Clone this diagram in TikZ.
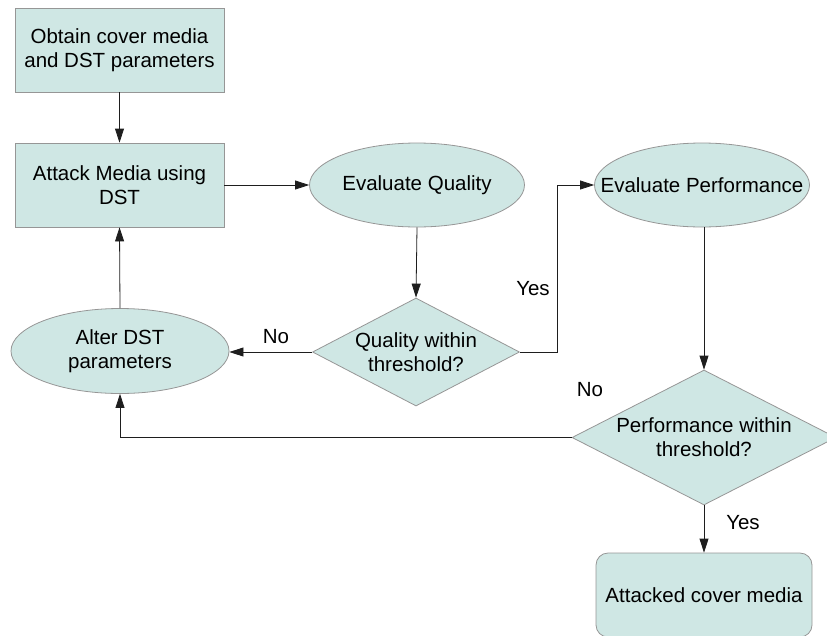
\documentclass[tikz,border=0pt]{standalone}
\usepackage{fontspec}
\setmainfont{Liberation Sans}
\usetikzlibrary{shapes.geometric,arrows.meta}
\definecolor{boxfill}{RGB}{207,231,228}
\definecolor{boxline}{RGB}{150,150,150}
\definecolor{conn}{RGB}{30,30,30}
\tikzset{
  base/.style={draw=boxline, fill=boxfill, line width=0.8pt, inner sep=0pt, align=center,
    font=\fontsize{20.5}{24}\selectfont},
  rectbox/.style={base, rectangle, minimum width=209pt, minimum height=84pt},
  roundbox/.style={base, rectangle, rounded corners=12pt, minimum width=216pt, minimum height=84pt},
  ellbox/.style={base, ellipse, minimum width=215pt, minimum height=84pt},
  decbox/.style={base, diamond},
  lbl/.style={inner sep=0pt, font=\fontsize{20.5}{24}\selectfont},
  txt/.style={inner sep=0pt, align=center, font=\fontsize{20.5}{24}\selectfont},
  conline/.style={draw=conn, line width=0.8pt},
  arr/.style={conline, -{Triangle[length=14pt,width=9pt]}}
}
\begin{document}
\begin{tikzpicture}[x=1pt,y=-1pt]
\useasboundingbox (0,0) rectangle (827,635);
\clip (0,0) rectangle (827,635);
\node[rectbox] (b1) at (119.5,50) {Obtain cover media\\and DST parameters};
\node[rectbox] (b2) at (119.5,185) {Attack Media using\\DST};
\node[ellbox] (eq) at (417,185) {};
\node[txt] (eqt) at (eq.center) {Evaluate Quality};
\node[ellbox] (ep) at (702,185) {};
\node[txt] (ept) at (ep.center) {Evaluate Performance};
\node[ellbox, minimum width=218pt, minimum height=85pt] (alt) at (120,351) {};
\node[txt] (altt) at (alt.center) {Alter DST\\parameters};
\node[decbox, minimum width=207pt, minimum height=108pt] (qd) at (416,352) {};
\node[txt] (qdt) at (qd.center) {Quality within\\threshold?};
\node[decbox, minimum width=264pt, minimum height=135pt] (pd) at (704,437.5) {};
\node[txt] (pdt) at (pd.center) {Performance within\\threshold?};
\node[roundbox] (att) at (704,595) {Attacked cover media};
\coordinate (yq) at (557,352);
\draw[arr] (b1.south) -- (b2.north);
\draw[arr] (b2.east) -- (eq.west);
\draw[arr] (eq.south) -- (qd.north);
\draw[arr] (qd.west) -- (qd.west -| alt.east);
\draw[arr] (qd.east) -- (yq) |- (ep.west);
\draw[arr] (ep.south -| pd.north) -- (pd.north);
\draw[arr] (pd.west) -| (alt.south);
\draw[arr] (pd.south) -- (att.north);
\draw[arr] (alt.north) -- (b2.south);
\node[lbl] (yes1) at (533,289) {Yes};
\node[lbl] (no1) at (276,337) {No};
\node[lbl] (no2) at (590,390) {No};
\node[lbl] (yes2) at (743,523) {Yes};
\end{tikzpicture}
\end{document}
